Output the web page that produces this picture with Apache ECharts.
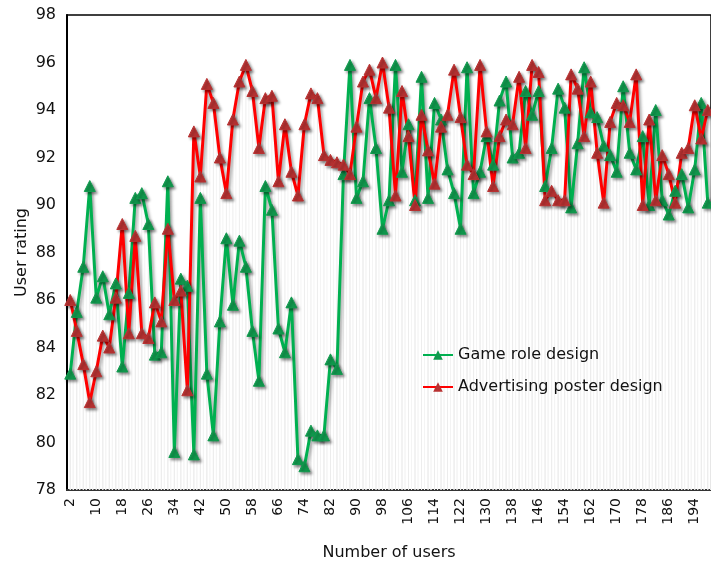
<!DOCTYPE html>
<html><head><meta charset="utf-8">
<script src="https://cdn.jsdelivr.net/npm/echarts@6/dist/echarts.min.js"></script>
<style>html,body{margin:0;padding:0;background:#fff}#c{width:711px;height:566px}</style>
</head><body><div id="c"></div>
<script>
const users = [];
for (let u = 2; u <= 198; u += 2) users.push(String(u));

const gameRole = [
82.9,85.5,87.4,90.8,86.1,87.0,85.4,86.7,83.2,86.3,
90.3,90.5,89.2,83.7,83.8,91.0,79.6,86.9,86.6,79.5,
90.3,82.9,80.3,85.1,88.6,85.8,88.5,87.4,84.7,82.6,
90.8,89.8,84.8,83.8,85.9,79.3,79.0,80.5,80.3,80.3,
83.5,83.1,91.3,95.9,90.3,91.0,94.5,92.4,89.0,90.2,
95.9,91.4,93.4,90.2,95.4,90.3,94.3,93.6,91.5,90.5,
89.0,95.8,90.5,91.4,92.9,91.7,94.4,95.2,92.0,92.2,
94.8,93.8,94.8,90.8,92.4,94.9,94.1,89.9,92.6,95.8,
93.9,93.7,92.5,92.1,91.4,95.0,92.2,91.5,92.9,90.0,
94.0,90.2,89.6,90.6,91.3,89.9,91.5,94.3,90.1
];
const poster = [
86.0,84.7,83.3,81.7,83.0,84.5,84.0,86.1,89.2,84.6,
88.7,84.6,84.4,85.9,85.1,89.0,86.0,86.4,82.2,93.1,
91.2,95.1,94.3,92.0,90.5,93.6,95.2,95.9,94.8,92.4,
94.5,94.6,91.0,93.4,91.4,90.4,93.4,94.7,94.5,92.1,
91.9,91.8,91.7,91.3,93.3,95.2,95.7,94.5,96.0,94.1,
90.4,94.8,92.9,90.0,93.8,92.3,90.9,93.3,93.8,95.7,
93.7,91.7,91.3,95.9,93.1,90.8,92.9,93.6,93.4,95.4,
92.4,95.9,95.6,90.2,90.6,90.2,90.2,95.5,94.9,92.9,
95.2,92.2,90.1,93.5,94.3,94.2,93.5,95.5,90.0,93.6,
90.2,92.1,91.3,90.1,92.2,92.4,94.2,92.8,94.0
];
const yTicks = {min: 78, max: 98, step: 2};

const FONT = 'DejaVu Sans';
const chart = echarts.init(document.getElementById('c'), null, {renderer: 'canvas'});
const dropStyle = {color: '#ededed', shadowColor: '#f4f4f4', shadowOffsetX: 3, shadowBlur: 0};
function lineSeries(name, data, lineColor, markColor) {
  return {
    name, type: 'line', data, symbol: 'triangle', symbolSize: 11, z: 3, showAllSymbol: true,
    lineStyle: {color: lineColor, width: 3, shadowColor: 'rgba(0,0,0,0.35)', shadowBlur: 3, shadowOffsetX: 2, shadowOffsetY: 2},
    itemStyle: {color: markColor, borderColor: markColor, shadowColor: 'rgba(0,0,0,0.45)', shadowBlur: 3, shadowOffsetX: 2, shadowOffsetY: 2}
  };
}
chart.setOption({
  animation: false,
  textStyle: {fontFamily: FONT},
  grid: {left: 67, top: 15, right: -2, bottom: 74, show: true, borderColor: '#000', borderWidth: 1.5},
  legend: {
    data: ['Game role design', 'Advertising poster design'],
    orient: 'vertical', left: 417, top: 342, itemWidth: 30, itemHeight: 12, itemGap: 16,
    textStyle: {fontFamily: FONT, fontSize: 16, color: '#111'}
  },
  xAxis: {
    type: 'category', data: users, boundaryGap: true,
    name: 'Number of users', nameLocation: 'middle', nameGap: 55, nameMoveOverlap: false,
    nameTextStyle: {fontFamily: FONT, fontSize: 16, color: '#111'},
    axisLine: {lineStyle: {color: '#333', width: 2}},
    axisTick: {show: false},
    axisLabel: {interval: 3, rotate: 90, fontFamily: FONT, fontSize: 14, color: '#111', margin: 8},
    splitLine: {show: false}
  },
  yAxis: {
    type: 'value', min: yTicks.min, max: yTicks.max, interval: yTicks.step,
    name: 'User rating', nameLocation: 'middle', nameGap: 37, nameRotate: 90, nameMoveOverlap: false,
    nameTextStyle: {fontFamily: FONT, fontSize: 16, color: '#111'},
    axisLine: {show: true, lineStyle: {color: '#000', width: 2}},
    axisTick: {show: false},
    axisLabel: {fontFamily: FONT, fontSize: 16, color: '#111', margin: 11},
    splitLine: {show: false}
  },
  series: [
    {type: 'bar', data: gameRole, barWidth: 1, barGap: '-100%', itemStyle: dropStyle, z: 1, silent: true, legendHoverLink: false},
    {type: 'bar', data: poster, barWidth: 1, barGap: '-100%', itemStyle: dropStyle, z: 1, silent: true, legendHoverLink: false},
    lineSeries('Game role design', gameRole, '#00b050', '#119a4e'),
    lineSeries('Advertising poster design', poster, '#ff0000', '#b83232')
  ]
});
</script></body></html>
